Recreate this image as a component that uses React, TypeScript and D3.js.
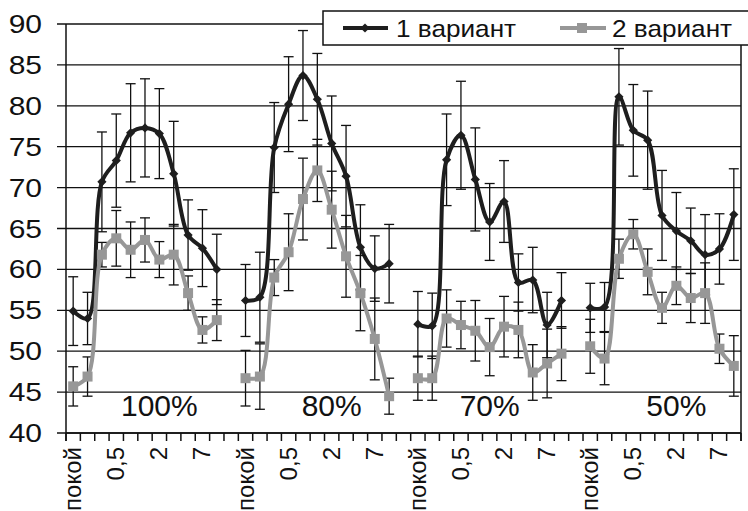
import React from "react";
import * as d3 from "d3";

// Category axis: rest ("покой") followed by time points; every group ends with an empty slot.
const groupCategoryLabels = ["покой", "", "", "0,5", "", "", "2", "", "", "7", "", ""];
const groups = ["100%", "80%", "70%", "50%"];

const seriesNames = ["1 вариант", "2 вариант"];

const variant1 = [
  54.9, 54.0, 70.7, 73.3, 76.7, 77.3, 76.6, 71.7, 64.2, 62.6, 60.0, null,
  56.2, 56.6, 74.9, 80.2, 83.7, 80.8, 75.4, 71.4, 62.7, 60.1, 60.7, null,
  53.3, 53.1, 73.4, 76.4, 71.0, 65.8, 68.3, 58.4, 58.7, 53.2, 56.2, null,
  55.3, 55.4, 81.1, 77.0, 75.8, 66.6, 64.7, 63.5, 61.8, 62.5, 66.7,
];
const variant1Err = [
  4.2, 3.2, 6.1, 5.7, 6.0, 6.0, 5.5, 6.4, 4.3, 4.7, 4.3, null,
  4.4, 5.5, 5.5, 5.8, 5.5, 5.6, 5.8, 6.2, 5.2, 4.0, 4.8, null,
  4.0, 4.0, 5.6, 6.6, 6.3, 4.7, 5.0, 3.5, 4.0, 4.0, 3.4, null,
  3.0, 3.0, 5.9, 5.6, 6.0, 5.5, 4.7, 4.0, 4.9, 4.3, 5.6,
];
const variant2 = [
  45.7, 46.9, 61.8, 63.8, 62.4, 63.6, 61.2, 61.8, 57.1, 52.6, 53.8, null,
  46.7, 46.9, 59.0, 62.1, 68.6, 72.1, 67.3, 61.6, 57.1, 51.5, 44.5, null,
  46.7, 46.7, 54.0, 53.2, 52.5, 50.5, 53.0, 52.6, 47.4, 48.5, 49.7, null,
  50.6, 49.1, 61.3, 64.3, 59.7, 55.3, 58.0, 56.5, 57.1, 50.3, 48.2,
];
const variant2Err = [
  2.4, 2.4, 1.5, 3.4, 3.4, 2.7, 2.2, 3.7, 2.1, 1.6, 2.5, null,
  3.4, 4.0, 2.2, 4.7, 5.0, 3.8, 4.7, 5.0, 4.6, 5.0, 2.2, null,
  2.7, 2.7, 3.5, 2.9, 3.7, 3.5, 3.7, 3.4, 3.4, 4.2, 3.3, null,
  3.3, 3.2, 2.4, 1.8, 2.8, 1.9, 2.3, 3.0, 3.7, 1.8, 3.7,
];
const yTicks = [40, 45, 50, 55, 60, 65, 70, 75, 80, 85, 90];

const W = 748;
const H = 511;
const M = { left: 66, right: 741, top: 24, bottom: 433 };
const FONT = "'Liberation Sans', Arial, sans-serif";
const BLACK = "#1e1e1e";
const GREY = "#979797";
// category index under each group caption
const groupLabelCat = [6, 18, 29, 42];

const categories = groups.flatMap(() => groupCategoryLabels).slice(0, variant1.length);
const idx = categories.map((_, i) => i);

const x = d3.scaleBand<number>().domain(idx).range([M.left, M.right]).padding(0);
const y = d3.scaleLinear().domain([40, 90]).range([M.bottom, M.top]);
const cx = (i: number) => (x(i) as number) + x.bandwidth() / 2;

const line = d3
  .line<number | null>()
  .defined((d) => d !== null)
  .x((_, i) => cx(i))
  .y((d) => y(d as number))
  .curve(d3.curveCatmullRom.alpha(0.5));

function ErrorBars({ values, errs }: { values: (number | null)[]; errs: (number | null)[] }) {
  const cap = 5;
  return (
    <g stroke="#111" strokeWidth={1.3} fill="none">
      {values.map((v, i) => {
        if (v === null || errs[i] === null) return null;
        const e = errs[i] as number;
        const X = cx(i);
        const top = y(v + e);
        const bot = y(v - e);
        return (
          <g key={i}>
            <line x1={X} x2={X} y1={top} y2={bot} />
            <line x1={X - cap} x2={X + cap} y1={top} y2={top} />
            <line x1={X - cap} x2={X + cap} y1={bot} y2={bot} />
          </g>
        );
      })}
    </g>
  );
}

function Diamond({ X, Y, r = 4.6, fill }: { X: number; Y: number; r?: number; fill: string }) {
  return <path d={`M${X},${Y - r}L${X + r},${Y}L${X},${Y + r}L${X - r},${Y}Z`} fill={fill} />;
}

function Square({ X, Y, s = 10, fill }: { X: number; Y: number; s?: number; fill: string }) {
  return <rect x={X - s / 2} y={Y - s / 2} width={s} height={s} fill={fill} />;
}

export default function App() {
  const boundaries = d3.range(idx.length + 1).map((i) =>
    i < idx.length ? (x(i) as number) : M.right
  );
  return (
    <svg
      width={W}
      height={H}
      style={{ position: "absolute", left: 0, top: 0, background: "#fff" }}
      fontFamily={FONT}
    >
      {/* horizontal gridlines with outward ticks */}
      <g stroke="#111" strokeWidth={1.3}>
        {yTicks.map((t) => (
          <line key={t} x1={M.left - 9} x2={M.right} y1={y(t)} y2={y(t)} />
        ))}
      </g>
      {/* y tick labels */}
      <g fontSize={25} fill="#111">
        {yTicks.map((t) => (
          <text
            key={t}
            transform={`translate(42,${y(t) + 9}) scale(1.2,1)`}
            textAnchor="end"
          >
            {t}
          </text>
        ))}
      </g>
      {/* axes */}
      <g stroke="#111" strokeWidth={1.5}>
        <line x1={M.left} x2={M.left} y1={M.top} y2={M.bottom + 8} />
        <line x1={M.right} x2={M.right} y1={M.top} y2={M.bottom + 8} />
        <line x1={M.left} x2={M.right} y1={M.bottom} y2={M.bottom} />
        {boundaries.map((b, i) => (
          <line key={i} x1={b} x2={b} y1={M.bottom} y2={M.bottom + 8} />
        ))}
      </g>
      {/* category labels, rotated */}
      <g fontSize={24} fill="#111">
        {categories.map((c, i) =>
          c ? (
            <text
              key={i}
              transform={`translate(${cx(i) + 8},447) rotate(-90)`}
              textAnchor="end"
            >
              {c}
            </text>
          ) : null
        )}
      </g>
      {/* group captions */}
      <g fontSize={30} fill="#111" textAnchor="middle">
        {groups.map((g, k) => (
          <text key={g} x={cx(groupLabelCat[k])} y={y(42.05)}>
            {g}
          </text>
        ))}
      </g>

      {/* series 1 */}
      <ErrorBars values={variant1} errs={variant1Err} />
      <path d={line(variant1) || ""} fill="none" stroke={BLACK} strokeWidth={4} strokeLinejoin="round" />
      {variant1.map((v, i) =>
        v === null ? null : <Diamond key={i} X={cx(i)} Y={y(v)} fill={BLACK} />
      )}

      {/* series 2 */}
      <ErrorBars values={variant2} errs={variant2Err} />
      <path d={line(variant2) || ""} fill="none" stroke={GREY} strokeWidth={4} strokeLinejoin="round" />
      {variant2.map((v, i) =>
        v === null ? null : <Square key={i} X={cx(i)} Y={y(v)} fill={GREY} />
      )}

      {/* legend */}
      <g>
        <rect x={323} y={11} width={440} height={34} fill="#fff" stroke="#111" strokeWidth={1.5} />
        <line x1={343} x2={388} y1={28} y2={28} stroke={BLACK} strokeWidth={4} />
        <Diamond X={365} Y={28} fill={BLACK} />
        <text transform="translate(396,37) scale(1.09,1)" fontSize={24} fill="#111">
          {seriesNames[0]}
        </text>
        <line x1={560} x2={606} y1={28} y2={28} stroke={GREY} strokeWidth={4} />
        <Square X={582} Y={28} fill={GREY} />
        <text transform="translate(612,37) scale(1.09,1)" fontSize={24} fill="#111">
          {seriesNames[1]}
        </text>
      </g>
    </svg>
  );
}
